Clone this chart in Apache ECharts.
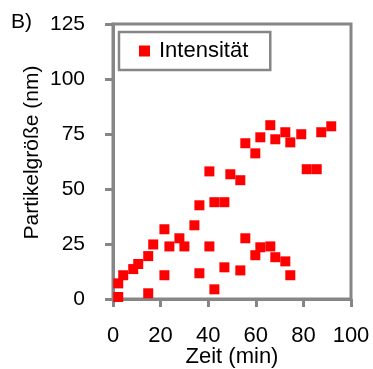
<!DOCTYPE html>
<html>
<head>
<meta charset="utf-8">
<script src="https://cdn.jsdelivr.net/npm/echarts@6/dist/echarts.min.js"></script>
<style>
  html, body { margin: 0; padding: 0; background: #fff; }
  #chart { width: 373px; height: 369px; }
</style>
</head>
<body>
<div id="chart"></div>
<script>
// Zeit (min) and Partikelgröße (nm)
const zeit = [2.2, 2.2, 4.3, 8.5, 10.6, 14.8, 14.8, 16.9, 21.6, 21.6, 23.7, 27.9, 30.0, 34.2,
  36.3, 36.3, 40.5, 40.5, 42.6, 42.6, 46.8, 46.8, 49.3, 53.5, 53.5, 55.6, 55.6, 59.8, 59.8,
  61.9, 61.9, 66.1, 66.1, 68.2, 68.2, 72.4, 72.4, 74.5, 74.5, 79.1, 81.4, 85.6, 87.5, 91.7];
const groesse = [0.9, 7.1, 10.8, 13.6, 15.9, 19.5, 2.6, 24.8, 31.7, 10.8, 23.9, 27.6, 23.9, 33.5,
  42.6, 11.7, 58.0, 23.9, 4.4, 44.0, 44.0, 14.4, 56.7, 54.0, 13.0, 27.6, 70.8, 66.2, 19.9,
  23.5, 73.5, 23.9, 79.0, 19.0, 72.6, 17.1, 75.8, 10.8, 71.2, 74.9, 59.0, 59.0, 75.8, 78.5];
const seriesName = 'Intensität';

const chart = echarts.init(document.getElementById('chart'), null, { renderer: 'canvas' });
const axisGray = '#868686';
const font = 'Liberation Sans, Arial, sans-serif';

chart.setOption({
  animation: false,
  textStyle: { fontFamily: font, color: '#000' },
  grid: {
    left: 113, right: 22, top: 24, bottom: 70,
    containLabel: false, outerBoundsMode: 'none',
    show: true, borderColor: axisGray, borderWidth: 3
  },
  graphic: [{
    type: 'text', left: 11, top: 12,
    style: { text: 'B)', font: '21px ' + font, fill: '#000' }
  }],
  legend: {
    data: [seriesName],
    left: 119, top: 32,
    padding: [8, 22, 8, 20],
    borderColor: axisGray, borderWidth: 2.5,
    itemWidth: 11, itemHeight: 11,
    icon: 'rect',
    textStyle: { fontSize: 22, fontFamily: font, color: '#000', padding: [0, 0, 0, 4] }
  },
  xAxis: {
    type: 'value', min: 0, max: 100, interval: 20,
    name: 'Zeit (min)', nameLocation: 'middle', nameGap: 47, nameMoveOverlap: false,
    nameTextStyle: { fontSize: 22, fontFamily: font, color: '#000' },
    axisLine: { lineStyle: { color: axisGray, width: 3 } },
    axisTick: { show: true, length: 8, inside: false, lineStyle: { color: axisGray, width: 3 } },
    axisLabel: { fontSize: 22, fontFamily: font, color: '#000', margin: 26 },
    splitLine: { show: false }
  },
  yAxis: {
    type: 'value', min: 0, max: 125, interval: 25,
    name: 'Partikelgröße (nm)', nameLocation: 'middle', nameGap: 70, nameMoveOverlap: false,
    nameTextStyle: { fontSize: 21, fontFamily: font, color: '#000', padding: [0, 0, 0, 18] },
    axisLine: { lineStyle: { color: axisGray, width: 3 } },
    axisTick: { show: true, length: 8, inside: false, lineStyle: { color: axisGray, width: 3 } },
    axisLabel: { fontSize: 21, fontFamily: font, color: '#000', margin: 28 },
    splitLine: { show: false }
  },
  series: [{
    name: seriesName,
    type: 'scatter',
    symbol: 'rect',
    symbolSize: 10,
    itemStyle: { color: '#ff0000', opacity: 1 },
    data: zeit.map((x, i) => [x, groesse[i]])
  }]
});
</script>
</body>
</html>
